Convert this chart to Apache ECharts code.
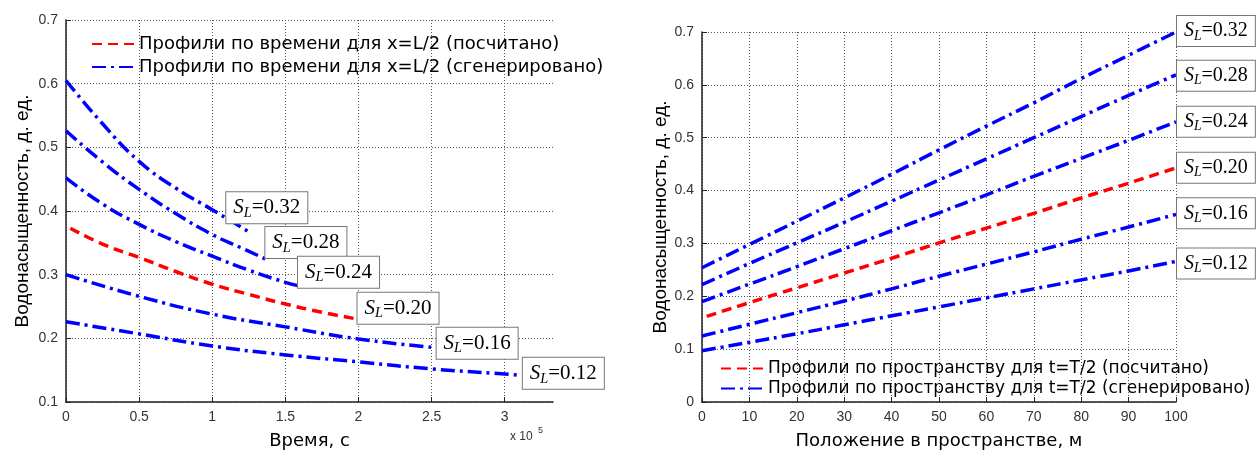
<!DOCTYPE html>
<html>
<head>
<meta charset="utf-8">
<script src="https://cdn.jsdelivr.net/npm/echarts@6/dist/echarts.min.js"></script>
<style>
  html, body { margin: 0; padding: 0; background: #fff; }
  #chart { width: 1257px; height: 455px; }
</style>
</head>
<body>
<div id="chart"></div>
<script>
// левый график: профили по времени, время в единицах 1e5 с
const timeNames = ["Профили по времени для x=L/2 (посчитано)", "Профили по времени для x=L/2 (сгенерировано)"];
const t032 = [0, 0.25, 0.5, 0.75, 1.0, 1.26];
const s032 = [0.605, 0.537, 0.478, 0.436, 0.402, 0.366];
const t028 = [0, 0.25, 0.5, 0.75, 1.0, 1.2, 1.37];
const s028 = [0.526, 0.477, 0.434, 0.396, 0.363, 0.342, 0.324];
const t024 = [0, 0.25, 0.5, 0.75, 1.0, 1.25, 1.5, 1.6];
const s024 = [0.452, 0.411, 0.379, 0.352, 0.329, 0.307, 0.288, 0.282];
const t020 = [0.03, 0.25, 0.5, 0.75, 1.0, 1.25, 1.5, 1.75, 2.0];
const s020 = [0.373, 0.348, 0.327, 0.305, 0.285, 0.269, 0.254, 0.241, 0.23];
const t016 = [0, 0.5, 1.0, 1.5, 2.0, 2.5];
const s016 = [0.30, 0.266, 0.238, 0.218, 0.199, 0.186];
const t012 = [0, 0.5, 1.0, 1.5, 2.0, 2.5, 3.0, 3.11];
const s012 = [0.226, 0.207, 0.188, 0.174, 0.163, 0.152, 0.144, 0.142];

// правый график: профили по пространству, м
const spaceNames = ["Профили по пространству для t=T/2 (посчитано)", "Профили по пространству для t=T/2 (сгенерировано)"];
const xPos = [0, 10, 20, 30, 40, 50, 60, 70, 80, 90, 100];
const xPosRed = [1, 10, 20, 30, 40, 50, 60, 70, 80, 90, 100];
const p032 = [0.254, 0.298, 0.342, 0.386, 0.431, 0.477, 0.522, 0.566, 0.612, 0.656, 0.700];
const p028 = [0.222, 0.262, 0.301, 0.340, 0.380, 0.420, 0.460, 0.500, 0.540, 0.580, 0.619];
const p024 = [0.190, 0.223, 0.256, 0.290, 0.324, 0.358, 0.392, 0.427, 0.461, 0.495, 0.530];
const p020 = [0.162, 0.188, 0.216, 0.244, 0.272, 0.301, 0.329, 0.357, 0.386, 0.414, 0.443];
const p016 = [0.125, 0.147, 0.169, 0.191, 0.214, 0.238, 0.261, 0.284, 0.308, 0.331, 0.355];
const p012 = [0.097, 0.113, 0.129, 0.146, 0.163, 0.180, 0.197, 0.214, 0.231, 0.248, 0.266];

const slLabels = ["0.32", "0.28", "0.24", "0.20", "0.16", "0.12"];

const zip = (xs, ys) => xs.map((x, i) => [x, ys[i]]);

const FONT = "DejaVu Sans";
const TICK_FONT = "Liberation Sans";
const BLUE_DASH = [14, 5, 3, 5];
const RED_DASH = [10, 6];

function boxLabel(sl, offset, size) {
  return {
    show: true,
    distance: 0,
    offset: offset,
    formatter: "{s|S}{l|L}{v|=" + sl + "}",
    backgroundColor: "#fff",
    borderColor: "#777",
    borderWidth: 1,
    padding: [3, 7, 3, 7],
    rich: {
      s: { fontFamily: "Liberation Serif", fontStyle: "italic", fontSize: size, lineHeight: size + 4, verticalAlign: "middle", color: "#000" },
      l: { fontFamily: "Liberation Serif", fontStyle: "italic", fontSize: size * 0.68, lineHeight: size * 0.68, verticalAlign: "bottom", color: "#000" },
      v: { fontFamily: "Liberation Serif", fontSize: size, lineHeight: size + 4, verticalAlign: "middle", color: "#000" },
    },
  };
}

function curve(name, data, idx, red, label) {
  return {
    type: "line",
    name: name,
    xAxisIndex: idx,
    yAxisIndex: idx,
    data: data,
    smooth: true,
    showSymbol: false,
    symbol: "none",
    lineStyle: { color: red ? "#ff0000" : "#0000ff", width: 3.5, type: red ? RED_DASH : BLUE_DASH },
    itemStyle: { color: red ? "#ff0000" : "#0000ff" },
    endLabel: label,
  };
}

const axisCommon = {
  axisLine: { show: true, onZero: false, lineStyle: { color: "#222", width: 1.5 } },
  axisTick: { show: true, inside: true, length: 5, lineStyle: { color: "#222" } },
  axisLabel: { color: "#333", fontFamily: TICK_FONT, fontSize: 14, margin: 8 },
  splitLine: { show: true, lineStyle: { color: "#555", type: [1, 2], width: 1 } },
  nameTextStyle: { color: "#000", fontFamily: FONT, fontSize: 18 },
};
const yNameStyle = { color: "#000", fontFamily: "Liberation Sans", fontSize: 19 };

const chart = echarts.init(document.getElementById("chart"));
chart.setOption({
  animation: false,
  backgroundColor: "#fff",
  grid: [
    { left: 66, top: 20, width: 487, height: 383 },
    { left: 702, top: 32, width: 474, height: 371 },
  ],
  xAxis: [
    Object.assign({}, axisCommon, { type: "value", gridIndex: 0, min: 0, max: 3.33, interval: 0.5,
      axisLabel: Object.assign({}, axisCommon.axisLabel, { showMaxLabel: false }),
      splitLine: Object.assign({}, axisCommon.splitLine, { showMaxLine: false }),
      name: "Время, с", nameLocation: "middle", nameGap: 30 }),
    Object.assign({}, axisCommon, { type: "value", gridIndex: 1, min: 0, max: 100, interval: 10,
      name: "Положение в пространстве, м", nameLocation: "middle", nameGap: 30 }),
  ],
  yAxis: [
    Object.assign({}, axisCommon, { type: "value", gridIndex: 0, min: 0.1, max: 0.7, interval: 0.1,
      name: "Водонасыщенность, д. ед.", nameLocation: "middle", nameGap: 34, nameTextStyle: yNameStyle }),
    Object.assign({}, axisCommon, { type: "value", gridIndex: 1, min: 0, max: 0.7, interval: 0.1,
      name: "Водонасыщенность, д. ед.", nameLocation: "middle", nameGap: 30, nameTextStyle: yNameStyle }),
  ],
  legend: [
    {
      data: timeNames, orient: "vertical", left: 86, top: 30,
      itemWidth: 42, itemHeight: 18, itemGap: 5,
      itemStyle: { opacity: 0 },
      textStyle: { color: "#000", fontFamily: FONT, fontSize: 18 },
    },
    {
      data: spaceNames, orient: "vertical", left: 715, top: 355,
      itemWidth: 42, itemHeight: 16, itemGap: 3,
      itemStyle: { opacity: 0 },
      textStyle: { color: "#000", fontFamily: FONT, fontSize: 17 },
    },
  ],
  graphic: [
    {
      type: "text", left: 510, top: 431,
      style: { text: "x 10", fill: "#333", font: "12px Liberation Sans" },
    },
    {
      type: "text", left: 538, top: 426,
      style: { text: "5", fill: "#333", font: "9px Liberation Sans" },
    },
  ],
  series: [
    curve(timeNames[1], zip(t032, s032), 0, false, boxLabel(slLabels[0], [-24, -25], 21)),
    curve(timeNames[1], zip(t028, s028), 0, false, boxLabel(slLabels[1], [-1, -17], 21)),
    curve(timeNames[1], zip(t024, s024), 0, false, boxLabel(slLabels[2], [-2, -14], 21)),
    curve(timeNames[0], zip(t020, s020), 0, true, boxLabel(slLabels[3], [-1, -11], 21)),
    curve(timeNames[1], zip(t016, s016), 0, false, boxLabel(slLabels[4], [5, -4], 21)),
    curve(timeNames[1], zip(t012, s012), 0, false, boxLabel(slLabels[5], [2, -2], 21)),

    curve(spaceNames[1], zip(xPos, p032), 1, false, boxLabel(slLabels[0], [1, -1], 20)),
    curve(spaceNames[1], zip(xPos, p028), 1, false, boxLabel(slLabels[1], [1, 1], 20)),
    curve(spaceNames[1], zip(xPos, p024), 1, false, boxLabel(slLabels[2], [1, 0], 20)),
    curve(spaceNames[0], zip(xPosRed, p020), 1, true, boxLabel(slLabels[3], [1, 0], 20)),
    curve(spaceNames[1], zip(xPos, p016), 1, false, boxLabel(slLabels[4], [1, -1], 20)),
    curve(spaceNames[1], zip(xPos, p012), 1, false, boxLabel(slLabels[5], [1, 2], 20)),
  ],
});
</script>
</body>
</html>
